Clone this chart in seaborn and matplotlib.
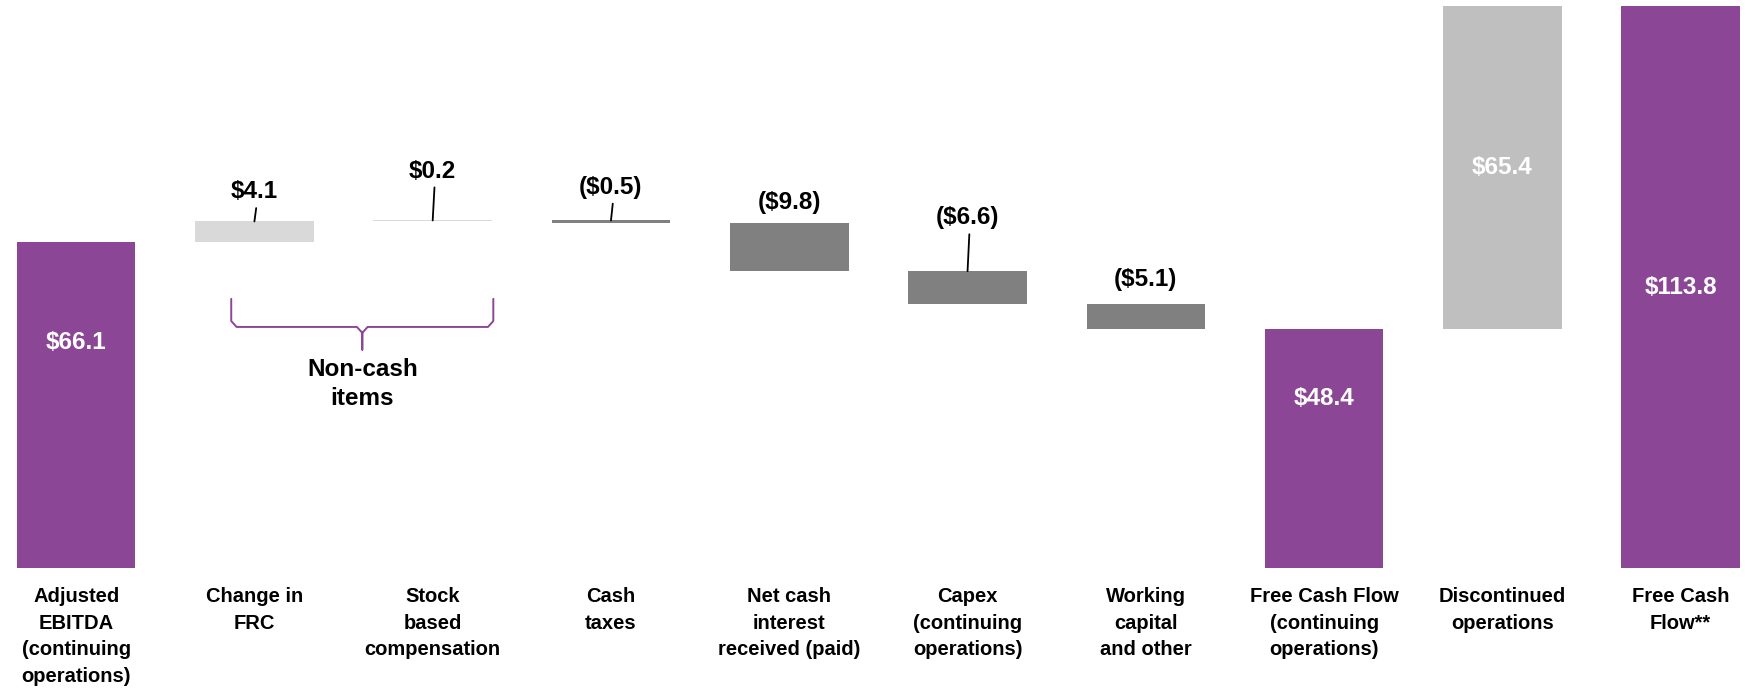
"""Free cash flow bridge (waterfall) chart."""

import matplotlib
matplotlib.use("Agg")
import matplotlib.pyplot as plt
import pandas as pd
import seaborn as sns

categories = [
    "Adjusted\nEBITDA\n(continuing\noperations)",
    "Change in\nFRC",
    "Stock\nbased\ncompensation",
    "Cash\ntaxes",
    "Net cash\ninterest\nreceived (paid)",
    "Capex\n(continuing\noperations)",
    "Working\ncapital\nand other",
    "Free Cash Flow\n(continuing\noperations)",
    "Discontinued\noperations",
    "Free Cash\nFlow**",
]
# step values; totals are marked in `is_total`
values = [66.1, 4.1, 0.2, -0.5, -9.8, -6.6, -5.1, 48.4, 65.4, 113.8]
is_total = [True, False, False, False, False, False, False, True, False, True]
value_labels = ["$66.1", "$4.1", "$0.2", "($0.5)", "($9.8)", "($6.6)",
                "($5.1)", "$48.4", "$65.4", "$113.8"]

PURPLE = "#8B4796"
LIGHT = "#D9D9D9"
DARK = "#808080"
DISC = "#BFBFBF"
colors = [PURPLE, LIGHT, LIGHT, DARK, DARK, DARK, DARK, PURPLE, DISC, PURPLE]

# layout tweaks for the labels
inside_frac = [0.69, None, None, None, None, None, None, 0.71, 0.5, 0.5]
above_gap = [None, 6.0, 10.0, 6.7, 4.2, 10.8, 5.0, None, None, None]
leader = [False, True, True, True, False, True, False, False, False, False]

# running bottoms / heights
bottoms, heights = [], []
running = 0.0
for v, tot in zip(values, is_total):
    if tot:
        bottoms.append(0.0)
        heights.append(v)
        running = v
    else:
        lo = min(running, running + v)
        bottoms.append(lo)
        heights.append(abs(v))
        running += v

df = pd.DataFrame({"category": categories, "height": heights})

sns.set_theme(style="white")
plt.rcParams["font.family"] = ["Liberation Sans", "DejaVu Sans"]

fig = plt.figure(figsize=(17.52, 6.92), dpi=100)
ax = fig.add_axes([0, 124.4 / 692, 1, 567.6 / 692])

sns.barplot(
    data=df,
    x="category",
    y="height",
    hue="category",
    palette=colors,
    saturation=1,
    legend=False,
    width=0.665,
    linewidth=0,
    ax=ax,
)
for patch, b in zip(ax.patches, bottoms):
    patch.set_y(b)

ax.set_xlim(-0.427, 9.40)
ax.set_ylim(0, 115.1)
for s in ax.spines.values():
    s.set_visible(False)
ax.set_yticks([])
ax.set_xlabel("")
ax.set_ylabel("")
ax.set_xticks(range(len(categories)))
ax.set_xticklabels(categories, fontsize=14.5, fontweight="bold",
                   color="black", linespacing=1.5, va="top")
ax.tick_params(axis="x", length=0, pad=14)

for i, (b, h) in enumerate(zip(bottoms, heights)):
    if inside_frac[i] is not None:
        ax.text(i, b + h * inside_frac[i], value_labels[i], ha="center",
                va="center", color="white", fontsize=17.5, fontweight="bold")
    else:
        top = b + h
        y = top + above_gap[i]
        ax.text(i, y, value_labels[i], ha="center", va="center",
                color="black", fontsize=17.5, fontweight="bold")
        if leader[i]:
            ax.plot([i + 0.01, i], [y - 3.3, top], color="black", lw=1.3)

# brace for the non-cash items
bx0, bx1, bxm = 0.87, 2.34, 1.605
ytop, ymid, ytip = 54.5, 48.8, 44.2
r = 1.2
brace_x = [bx0, bx0, bx0 + 0.03, bxm - 0.03, bxm, bxm, bxm, bxm + 0.03,
           bx1 - 0.03, bx1, bx1]
brace_y = [ytop, ymid + r, ymid, ymid, ymid - r, ytip, ymid - r, ymid,
           ymid, ymid + r, ytop]
ax.plot(brace_x, brace_y, color=PURPLE, lw=1.4, solid_joinstyle="round")
ax.text(bxm, 37.3, "Non-cash\nitems", ha="center", va="center",
        fontsize=17.5, fontweight="bold", color="black", linespacing=1.35)

fig.savefig("out.png", dpi=100)
